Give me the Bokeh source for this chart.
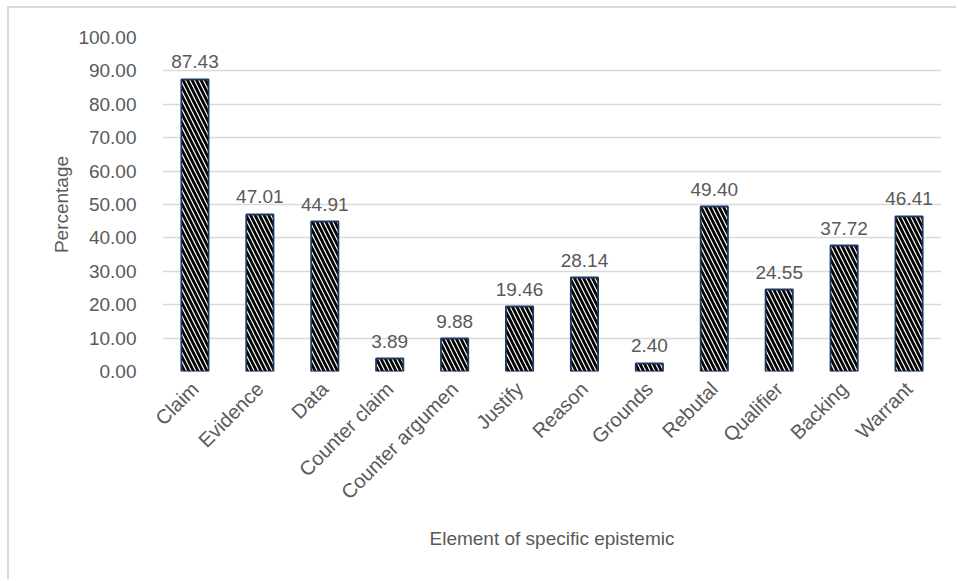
from bokeh.plotting import figure
from bokeh.models import ColumnDataSource, LabelSet, PrintfTickFormatter, FixedTicker
from bokeh.core.properties import value
from bokeh.embed import file_html
from bokeh.resources import INLINE
import math

categories = ["Claim", "Evidence", "Data", "Counter claim", "Counter argumen", "Justify",
              "Reason", "Grounds", "Rebutal", "Qualifier", "Backing", "Warrant"]
values = [87.43, 47.01, 44.91, 3.89, 9.88, 19.46, 28.14, 2.40, 49.40, 24.55, 37.72, 46.41]
y_ticks = [0, 10, 20, 30, 40, 50, 60, 70, 80, 90, 100]

FONT = "Liberation Sans"
GREY = "#595959"

src = ColumnDataSource(dict(cat=categories, val=values, lab=["%.2f" % v for v in values]))

p = figure(x_range=categories, y_range=(0, 100), width=949, height=573,
           output_backend="svg", toolbar_location=None,
           min_border_left=153, min_border_top=29, min_border_right=17, min_border_bottom=210)
p.outline_line_color = None
p.background_fill_color = "white"
p.border_fill_color = "white"
p.styles = {"margin-left": "7px", "margin-top": "6px",
            "border-left": "2px solid #d9d9d9", "border-top": "2px solid #d9d9d9"}

p.vbar(x="cat", top="val", width=0.42, source=src, fill_color="white",
       hatch_pattern="\\", hatch_color="black", hatch_scale=9, hatch_weight=2.8,
       line_color="#1F3864", line_width=1.8)

labels = LabelSet(x="cat", y="val", text="lab", source=src, text_align="center",
                  text_baseline="bottom", y_offset=11, text_font_size="19px",
                  text_color=GREY, text_font=value(FONT))
p.add_layout(labels)

p.xgrid.grid_line_color = None
p.ygrid.grid_line_color = "#d9d9d9"
p.ygrid.grid_line_width = 1.5
p.yaxis.ticker = FixedTicker(ticks=y_ticks)
p.yaxis.formatter = PrintfTickFormatter(format="%.2f")

for ax in (p.xaxis[0], p.yaxis[0]):
    ax.axis_line_color = None
    ax.major_tick_line_color = None
    ax.minor_tick_line_color = None
    ax.major_label_text_font = FONT
    ax.major_label_text_font_size = "19px"
    ax.major_label_text_color = GREY
    ax.axis_label_text_font = FONT
    ax.axis_label_text_font_size = "19px"
    ax.axis_label_text_color = GREY
    ax.axis_label_text_font_style = "normal"

p.xaxis.major_label_text_font_size = "20px"
p.yaxis.axis_label = "Percentage"
p.yaxis.major_label_standoff = 20
p.yaxis.axis_label_standoff = 3
p.xaxis.axis_label = "Element of specific epistemic"
p.xaxis.major_label_orientation = math.pi / 4
p.xaxis.major_label_standoff = 8
p.xaxis.axis_label_standoff = 14

open("out.html", "w").write(file_html(p, INLINE))
